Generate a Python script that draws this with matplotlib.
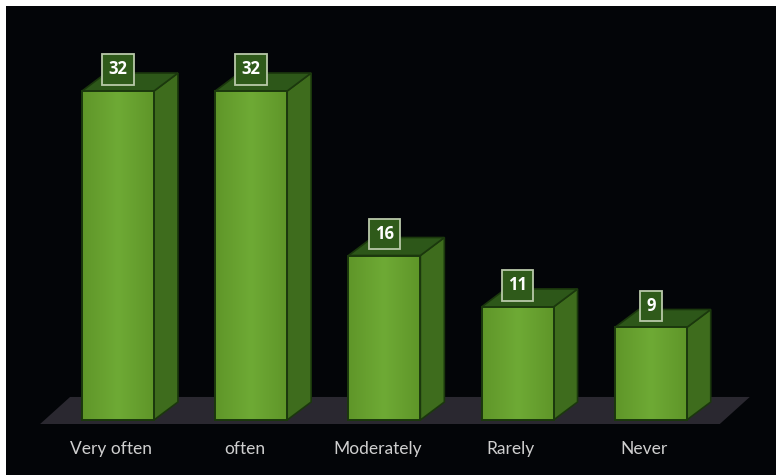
import numpy as np
import matplotlib.pyplot as plt
from matplotlib.patches import Polygon
from matplotlib.colors import LinearSegmentedColormap

categories = ['Very often', 'often', 'Moderately', 'Rarely', 'Never']
values = [32, 32, 16, 11, 9]

# colours
bg = '#030508'
front_col = '#67a02f'
side_col = '#3e6c1d'
top_col = '#2d5719'
edge_col = '#1b380d'
floor_col = '#2a2830'
label_col = '#cfcfcf'

# geometry in data units (x = category index, y = value)
half_w = 0.27
dx, dy = 0.18, 1.75

fig = plt.figure(figsize=(7.79, 4.75), dpi=100, facecolor='white')
ax = fig.add_axes([6 / 779, 0, 770 / 779, 469 / 475])
ax.set_facecolor(bg)
ax.set_xlim(-0.841, 4.94)
ax.set_ylim(-5.35, 40.27)
ax.set_xticks([])
ax.set_yticks([])
for s in ax.spines.values():
    s.set_visible(False)

# floor
n = len(categories)
fx0, fx1 = -0.585, n - 1 + 0.518
fy0, fy1 = -0.39, 2.24
fs = 0.225
ax.add_patch(Polygon([(fx0, fy0), (fx1, fy0), (fx1 + fs, fy1), (fx0 + fs, fy1)],
                     closed=True, facecolor=floor_col, edgecolor='none', zorder=1))

# front face gradient, a bit lighter towards the middle
grad = np.linspace(0, 1, 64)
grad = 1 - np.abs(grad - 0.5) * 2
grad = grad.reshape(1, -1)
cmap = LinearSegmentedColormap.from_list('g', ['#5f9629', front_col, '#6eaa35'])

for i, v in enumerate(values):
    x0, x1 = i - half_w, i + half_w
    # side face
    ax.add_patch(Polygon([(x1, 0), (x1 + dx, dy), (x1 + dx, v + dy), (x1, v)],
                         closed=True, facecolor=side_col, edgecolor=edge_col,
                         lw=1.2, zorder=3))
    # top face
    ax.add_patch(Polygon([(x0, v), (x1, v), (x1 + dx, v + dy), (x0 + dx, v + dy)],
                         closed=True, facecolor=top_col, edgecolor=edge_col,
                         lw=1.2, zorder=3))
    # front face
    front = Polygon([(x0, 0), (x1, 0), (x1, v), (x0, v)], closed=True,
                    facecolor=front_col, edgecolor=edge_col, lw=1.4, zorder=4)
    ax.add_patch(front)
    im = ax.imshow(grad, cmap=cmap, vmin=0, vmax=1, aspect='auto',
                   extent=(x0, x1, 0, v), zorder=4, interpolation='bicubic')
    im.set_clip_path(front)
    ax.add_patch(Polygon([(x0, 0), (x1, 0), (x1, v), (x0, v)], closed=True,
                         facecolor='none', edgecolor=edge_col, lw=1.4, zorder=5))

    # value label box
    ax.text(i, v + 2.1, str(v), ha='center', va='center', color='white',
            fontsize=12, fontweight='bold', family='Open Sans', zorder=6,
            bbox=dict(boxstyle='square,pad=0.38', facecolor='#2f5a1a',
                      edgecolor='#b9c9a9', lw=1.3))

    # category label
    ax.text(i - 0.05, -2.82, categories[i], ha='center', va='center',
            color=label_col, fontsize=12.5, family='Lato', zorder=6)

fig.savefig('out.png', dpi=100, facecolor=fig.get_facecolor())
